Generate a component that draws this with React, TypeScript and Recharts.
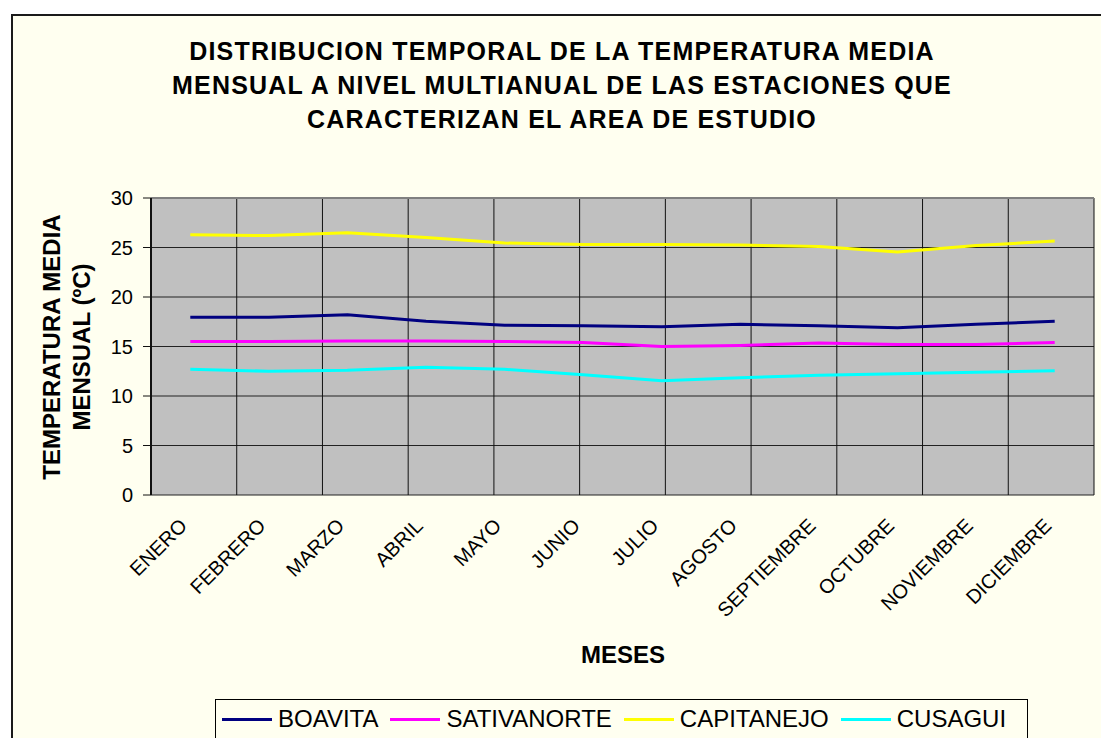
import React from 'react';
import { LineChart, Line, XAxis, YAxis, CartesianGrid, ReferenceLine } from 'recharts';

const MONTHS = [
  'ENERO', 'FEBRERO', 'MARZO', 'ABRIL', 'MAYO', 'JUNIO',
  'JULIO', 'AGOSTO', 'SEPTIEMBRE', 'OCTUBRE', 'NOVIEMBRE', 'DICIEMBRE',
];

const BOAVITA = [17.95, 17.95, 18.2, 17.55, 17.15, 17.1, 17.0, 17.25, 17.1, 16.9, 17.25, 17.55];
const SATIVANORTE = [15.5, 15.5, 15.55, 15.55, 15.5, 15.4, 15.0, 15.1, 15.35, 15.2, 15.2, 15.4];
const CAPITANEJO = [26.3, 26.2, 26.5, 26.0, 25.45, 25.3, 25.3, 25.25, 25.1, 24.55, 25.2, 25.65];
const CUSAGUI = [12.7, 12.5, 12.6, 12.9, 12.7, 12.15, 11.55, 11.85, 12.1, 12.25, 12.4, 12.55];

const Y_TICKS = [0, 5, 10, 15, 20, 25, 30];

const SERIES = [
  { key: 'BOAVITA', values: BOAVITA, color: '#000080' },
  { key: 'SATIVANORTE', values: SATIVANORTE, color: '#FF00FF' },
  { key: 'CAPITANEJO', values: CAPITANEJO, color: '#FFFF00' },
  { key: 'CUSAGUI', values: CUSAGUI, color: '#00FFFF' },
];

const TITLE_LINES = [
  'DISTRIBUCION TEMPORAL DE LA TEMPERATURA MEDIA',
  'MENSUAL A NIVEL MULTIANUAL DE LAS ESTACIONES QUE',
  'CARACTERIZAN EL AREA DE ESTUDIO',
];

const FONT = '"Liberation Sans", Arial, sans-serif';
const BG = '#FFFFF0';

// category slots: point i sits in the middle of slot [i, i+1]
const chartData = MONTHS.map((m, i) => {
  const row: any = { month: m, pos: i + 0.5 };
  SERIES.forEach((s) => (row[s.key] = s.values[i]));
  return row;
});
const centerTicks = MONTHS.map((_, i) => i + 0.5);
const boundTicks = [...MONTHS.map((_, i) => i), MONTHS.length];

function MonthTick({ x, y, payload }: any) {
  const label = MONTHS[Math.floor(payload.value)];
  const ax = x - 2;
  const ay = y + 32;
  return (
    <text
      x={ax}
      y={ay}
      transform={`rotate(-45, ${ax}, ${ay})`}
      textAnchor="end"
      fontSize={20}
      fontFamily={FONT}
      fill="#000"
    >
      {label}
    </text>
  );
}

const NoTick = () => <g />;

export default function App() {
  return (
    <div
      style={{
        position: 'absolute',
        left: 0,
        top: 0,
        width: 1101,
        height: 738,
        overflow: 'hidden',
        background: '#fff',
        fontFamily: FONT,
      }}
    >
      <div
        style={{
          position: 'absolute',
          left: 11,
          top: 14,
          width: 1200,
          height: 900,
          border: '2px solid #1a1a1a',
          background: BG,
        }}
      />

      {/* title */}
      <div
        style={{
          position: 'absolute',
          left: 0,
          top: 34,
          width: 1124,
          textAlign: 'center',
          fontSize: 25,
          fontWeight: 'bold',
          lineHeight: '34px',
          letterSpacing: 1.2,
          color: '#000',
        }}
      >
        {TITLE_LINES.map((t) => (
          <div key={t}>{t}</div>
        ))}
      </div>

      <div style={{ position: 'absolute', left: 0, top: 0 }}>
        <LineChart
          width={1101}
          height={738}
          data={chartData}
          margin={{ top: 198, right: 7, bottom: 93, left: 91 }}
        >
          <CartesianGrid
            fill="#C0C0C0"
            fillOpacity={1}
            stroke="#222"
            strokeWidth={1}
            vertical={false}
          />
          <XAxis
            xAxisId="b"
            type="number"
            domain={[0, MONTHS.length]}
            ticks={boundTicks}
            tick={<NoTick />}
            tickSize={8}
            height={0}
            interval={0}
            axisLine={{ stroke: '#333', strokeWidth: 3 }}
            tickLine={{ stroke: '#333', strokeWidth: 1 }}
            allowDataOverflow
          />
          <XAxis
            xAxisId="c"
            dataKey="pos"
            type="number"
            domain={[0, MONTHS.length]}
            ticks={centerTicks}
            tick={<MonthTick />}
            tickSize={0}
            tickMargin={0}
            height={150}
            axisLine={false}
            tickLine={false}
            interval={0}
            allowDataOverflow
          />
          <YAxis
            type="number"
            domain={[0, 30]}
            ticks={Y_TICKS}
            width={60}
            tickSize={8}
            tickMargin={10}
            interval={0}
            tick={{ fill: '#000', fontSize: 20, fontFamily: FONT }}
            axisLine={{ stroke: '#111', strokeWidth: 2 }}
            tickLine={{ stroke: '#111', strokeWidth: 1 }}
          />
          {boundTicks.slice(1, -1).map((b) => (
            <ReferenceLine key={b} xAxisId="b" x={b} stroke="#111" strokeWidth={1} />
          ))}
          <ReferenceLine xAxisId="b" y={30} stroke="#808080" strokeWidth={2} />
          <ReferenceLine xAxisId="b" x={MONTHS.length} stroke="#808080" strokeWidth={2} />
          {SERIES.map((s) => (
            <Line
              key={s.key}
              xAxisId="c"
              type="linear"
              dataKey={s.key}
              stroke={s.color}
              strokeWidth={3}
              dot={false}
              activeDot={false}
              isAnimationActive={false}
            />
          ))}
        </LineChart>
      </div>

      {/* y axis title */}
      <div
        style={{
          position: 'absolute',
          left: 67 - 200,
          top: 347 - 30,
          width: 400,
          height: 60,
          transform: 'rotate(-90deg)',
          textAlign: 'center',
          fontSize: 24,
          fontWeight: 'bold',
          lineHeight: '30px',
          color: '#000',
        }}
      >
        <div>TEMPERATURA MEDIA</div>
        <div>MENSUAL (ºC)</div>
      </div>

      {/* x axis title */}
      <div
        style={{
          position: 'absolute',
          left: 623 - 100,
          top: 655 - 15,
          width: 200,
          textAlign: 'center',
          fontSize: 24,
          fontWeight: 'bold',
          lineHeight: '30px',
          color: '#000',
        }}
      >
        MESES
      </div>

      {/* legend */}
      <div
        style={{
          position: 'absolute',
          left: 215,
          top: 699,
          width: 813,
          height: 80,
          border: '1px solid #000',
          background: BG,
          display: 'flex',
          alignItems: 'flex-start',
          paddingLeft: 6,
          paddingTop: 5,
          boxSizing: 'border-box',
          gap: 12,
          fontSize: 24,
          color: '#000',
        }}
      >
        {SERIES.map((s) => (
          <div key={s.key} style={{ display: 'flex', alignItems: 'center', height: 28 }}>
            <div style={{ width: 50, height: 3, background: s.color, marginRight: 6 }} />
            <span>{s.key}</span>
          </div>
        ))}
      </div>
    </div>
  );
}
